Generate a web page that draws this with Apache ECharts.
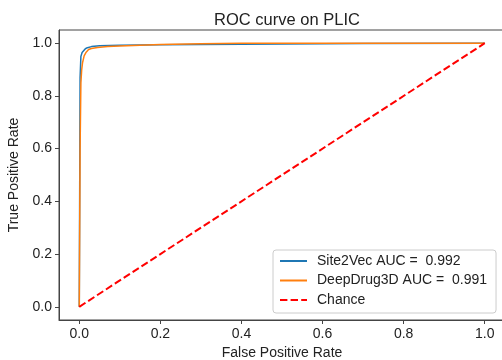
<!DOCTYPE html>
<html>
<head>
<meta charset="utf-8">
<script src="https://cdn.jsdelivr.net/npm/echarts@6/dist/echarts.min.js"></script>
<style>
  html, body { margin: 0; padding: 0; background: #fff; }
  #chart { width: 502px; height: 360px; }
</style>
</head>
<body>
<div id="chart"></div>
<script>
const site2vecFpr = [0, 0.002, 0.004, 0.007, 0.010, 0.015, 0.020, 0.030, 0.050, 0.100, 0.200, 0.300, 0.500, 0.700, 1.0]
const site2vecTpr = [0, 0.870, 0.950, 0.965, 0.972, 0.979, 0.983, 0.987, 0.990, 0.992, 0.994, 0.995, 0.997, 0.999, 1.0]

const deepDrugFpr = [0, 0.002, 0.004, 0.006, 0.008, 0.012, 0.017, 0.023, 0.030, 0.045, 0.070, 0.100, 0.150, 0.200, 0.300, 0.400, 1.0]
const deepDrugTpr = [0, 0.600, 0.850, 0.900, 0.925, 0.952, 0.966, 0.976, 0.980, 0.984, 0.987, 0.989, 0.992, 0.995, 0.998, 1.0, 1.0]

const chanceFpr = [0, 1]
const chanceTpr = [0, 1]

const xTicks = [0, 0.2, 0.4, 0.6, 0.8, 1.0]
const yTicks = [0, 0.2, 0.4, 0.6, 0.8, 1.0]

const seriesNames = ['Site2Vec AUC =  0.992', 'DeepDrug3D AUC =  0.991', 'Chance']

const FONT = 'Liberation Sans'
const zip = (xs, ys) => xs.map((x, i) => [x, ys[i]])

function axis(name, ticks, isX) {
  return {
    type: 'value',
    min: -0.05,
    max: 1.05,
    name,
    nameLocation: 'middle',
    nameGap: isX ? 24 : 36,
    nameTextStyle: { color: '#222', fontSize: 14, fontFamily: FONT },
    axisLine: { show: true, onZero: false, lineStyle: { color: '#444', width: 1 } },
    axisTick: { show: true, customValues: ticks, length: 4, lineStyle: { color: '#444' } },
    axisLabel: {
      customValues: ticks,
      formatter: (v) => v.toFixed(1),
      color: '#222',
      fontSize: 14,
      fontFamily: FONT,
      margin: 7
    },
    splitLine: { show: false }
  }
}

const chart = echarts.init(document.getElementById('chart'))
chart.setOption({
  animation: false,
  backgroundColor: '#fff',
  title: {
    text: 'ROC curve on PLIC',
    left: 282,
    top: 7,
    textAlign: 'center',
    textStyle: { color: '#222', fontSize: 16.5, fontWeight: 'normal', fontFamily: FONT }
  },
  grid: {
    left: 59, top: 30, width: 446, height: 290,
    outerBoundsMode: 'none',
    show: true, borderColor: '#444', borderWidth: 1
  },
  xAxis: axis('False Positive Rate', xTicks, true),
  yAxis: axis('True Positive Rate', yTicks, false),
  legend: {
    orient: 'vertical',
    left: 273,
    top: 250,
    padding: [4, 9, 6, 6],
    itemWidth: 27,
    itemHeight: 14,
    itemGap: 5.5,
    // line series draw a marker in the middle of the legend line; hide it
    itemStyle: { opacity: 0 },
    backgroundColor: '#fff',
    borderColor: '#ccc',
    borderWidth: 1,
    borderRadius: 3,
    textStyle: { color: '#222', fontSize: 14, fontFamily: FONT, padding: [0, 0, 0, 5] },
    data: seriesNames
  },
  series: [
    {
      name: seriesNames[0],
      type: 'line',
      data: zip(site2vecFpr, site2vecTpr),
      symbol: 'none',
      color: '#1f77b4',
      lineStyle: { width: 1.5 },
      z: 3
    },
    {
      name: seriesNames[1],
      type: 'line',
      data: zip(deepDrugFpr, deepDrugTpr),
      symbol: 'none',
      color: '#ff7f0e',
      lineStyle: { width: 1.5 },
      z: 4
    },
    {
      name: seriesNames[2],
      type: 'line',
      data: zip(chanceFpr, chanceTpr),
      symbol: 'none',
      color: '#ff0000',
      lineStyle: { width: 2, type: [7.4, 3.2] },
      z: 5
    }
  ]
})
</script>
</body>
</html>
